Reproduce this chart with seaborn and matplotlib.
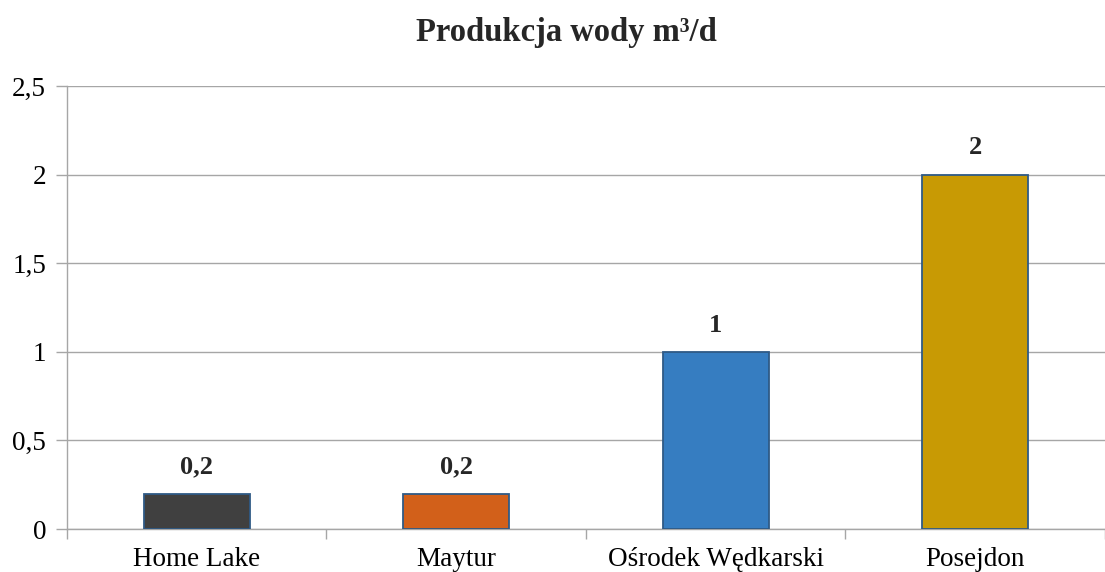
import matplotlib
matplotlib.use("Agg")
import matplotlib.pyplot as plt
import seaborn as sns
import pandas as pd
from matplotlib.ticker import FixedLocator

categories = ["Home Lake", "Maytur", "Ośrodek Wędkarski", "Posejdon"]
values = [0.2, 0.2, 1.0, 2.0]
value_labels = ["0,2", "0,2", "1", "2"]
colors = ["#404040", "#D2601A", "#367DC1", "#C89A04"]
yticks = [0, 0.5, 1, 1.5, 2, 2.5]
ytick_labels = ["0", "0,5", "1", "1,5", "2", "2,5"]
title = "Produkcja wody m³/d"

sns.set_theme(style="white")
plt.rcParams["font.family"] = ["Liberation Serif", "DejaVu Serif"]

df = pd.DataFrame({"cat": categories, "val": values})

fig = plt.figure(figsize=(11.05, 5.72), dpi=100)
ax = fig.add_axes([0.0606, 0.075, 0.9394, 0.7747])

sns.barplot(data=df, x="cat", y="val", hue="cat", palette=colors, legend=False,
            saturation=1, width=0.41, edgecolor="#2F5A86", linewidth=1.3, ax=ax, zorder=3)

ax.set_ylim(0, 2.5)
ax.set_xlim(-0.5, 3.5)
ax.set_yticks(yticks)
ax.set_yticklabels(ytick_labels, fontsize=19.5)
ax.yaxis.grid(True, color="#A6A6A6", linewidth=1)
ax.set_axisbelow(True)
ax.set_xlabel("")
ax.set_ylabel("")
ax.tick_params(axis="x", which="major", length=0, labelsize=19.5, pad=13, colors="black")
ax.xaxis.set_minor_locator(FixedLocator([-0.5, 0.5, 1.5, 2.5, 3.5]))
ax.tick_params(axis="x", which="minor", length=7, width=1, color="#A6A6A6", direction="out", bottom=True)
ax.tick_params(axis="y", length=8, width=1, color="#A6A6A6", direction="out", left=True, pad=7, labelcolor="black")

for s in ["top", "right"]:
    ax.spines[s].set_visible(False)
for s in ["left", "bottom"]:
    ax.spines[s].set_color("#A6A6A6")
    ax.spines[s].set_linewidth(1)

for i, (v, lab) in enumerate(zip(values, value_labels)):
    ax.annotate(lab, (i, v), xytext=(0, 11), textcoords="offset points",
                ha="center", va="bottom", fontsize=19, fontweight="bold")

fig.text(0.513, 0.944, title, ha="center", va="center", fontsize=23.5, fontweight="bold")

fig.savefig("out.png", dpi=100)
